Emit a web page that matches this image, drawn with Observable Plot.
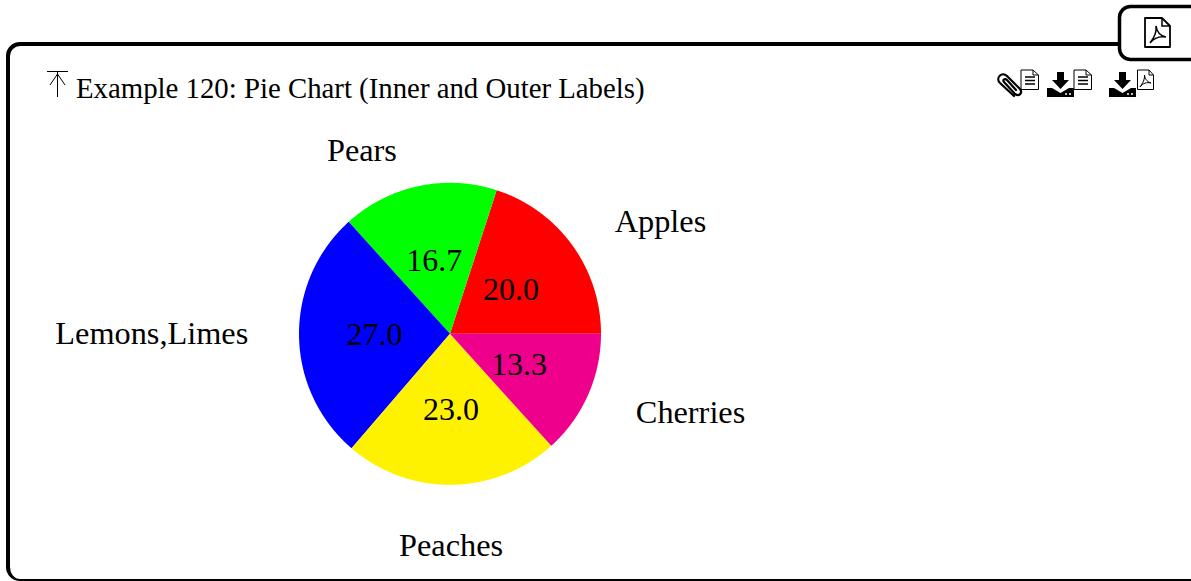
<!DOCTYPE html>
<html><head><meta charset="utf-8">
<script src="https://cdn.jsdelivr.net/npm/d3@7"></script>
<script src="https://cdn.jsdelivr.net/npm/@observablehq/plot@0.6"></script>
<style>
html,body{margin:0;padding:0;background:#fff;overflow:hidden;width:1191px;height:581px}
#page{position:relative;width:1191px;height:581px;overflow:hidden}
#frame{position:absolute;left:6px;top:42px;width:1300px;height:539px;border:4px solid #000;border-bottom-width:2.5px;border-radius:14px;box-sizing:border-box}
#plot{position:absolute;left:0;top:0}
#title{position:absolute;left:76px;top:70px;font:28.8px/36px "Liberation Serif",serif;color:#000;white-space:nowrap}
#icons{position:absolute;left:0;top:0}
</style></head><body>
<div id="page">
<div id="frame"></div>
<div id="plot"></div>
<div id="title">Example 120: Pie Chart (Inner and Outer Labels)</div>
<svg id="icons" width="1191" height="581" fill="none" stroke="#000">
  <rect x="1119.5" y="6.5" width="90" height="53" rx="11" fill="#fff" stroke-width="3.5"/>
  <path d="M47 71.5H68M57.5 71.5V97M50 85L57.5 74L65 85" stroke-width="1"/>
  <path d="M1145 18H1162L1170 26V47H1145Z" stroke-width="1.8" stroke-linejoin="round"/>
  <path d="M1162 18V26H1170" stroke-width="1.5"/>
  <path d="M1150 43C1154 38 1157 32 1156 26C1157 33 1161 36 1166 37C1160 36 1154 38 1150 43Z" stroke-width="1.6"/>
  <path d="M1014 96L1000 83C995 78 1002 71 1007 76L1020 89C1023 93 1019 97 1015 94L1004 82C1002 80 1005 78 1007 80L1016 90" stroke-width="2.2" stroke-linecap="round"/>
  <g id="doc" stroke-width="1"><path d="M1021 70H1033L1038.5 75V89.5H1021Z"/><path d="M1033 70V75H1038.5"/><path d="M1025 77H1035M1025 80.5H1035M1025 84H1035" stroke-width="1.5"/></g>
  <use href="#doc" x="53"/>
  <g id="dl"><path d="M1057 72H1064V80H1069L1060.5 89L1052 80H1057Z" fill="#000" stroke="none"/><path d="M1047 88H1052L1060.5 93L1069 88H1074V97H1047Z" fill="#000" stroke="none"/><circle cx="1066" cy="94" r="1" fill="#fff" stroke="none"/><circle cx="1070" cy="94" r="1" fill="#fff" stroke="none"/></g>
  <use href="#dl" x="62"/>
  <path d="M1137.5 70H1149L1153.5 75V89.5H1137.5Z" stroke-width="1"/><path d="M1149 70V75H1153.5" stroke-width="1"/>
  <path d="M1140 87C1143 83 1145 79 1144.5 75C1145 80 1148 82 1151 83C1147 82 1143 83 1140 87Z" stroke-width="1"/>
</svg>
</div>
<script>
const names = ["Apples", "Pears", "Lemons,Limes", "Peaches", "Cherries"];
const values = [20.0, 16.7, 27.0, 23.0, 13.3];
const colors = ["#ff0000", "#00ff00", "#0000ff", "#fff200", "#ee008c"];
// outer label centres, in pie radii from the pie's centre
const outerX = [1.394, -0.583, -1.975, 0.007, 1.593];
const outerY = [0.745, 1.212, 0, -1.405, -0.52];

const width = 1191, height = 581, cx = 449.5, cy = 333.3, radius = 151;
const total = d3.sum(values);
let acc = 0;
const slices = names.map((name, i) => {
  const start = acc / total * 2 * Math.PI;
  acc += values[i];
  const end = acc / total * 2 * Math.PI;
  return {name, value: values[i], start, end, mid: (start + end) / 2, ox: outerX[i], oy: outerY[i]};
});
const outline = slices.flatMap(s => {
  const n = Math.ceil((s.end - s.start) / 0.005);
  const pts = d3.range(n + 1).map(k => {
    const a = s.start + (s.end - s.start) * k / n;
    return {name: s.name, x: Math.cos(a), y: Math.sin(a)};
  });
  return [{name: s.name, x: 0, y: 0}, ...pts, {name: s.name, x: 0, y: 0}];
});
const plot = Plot.plot({
  width, height, margin: 0,
  x: {domain: [-cx / radius, (width - cx) / radius], range: [0, width], axis: null},
  y: {domain: [-(height - cy) / radius, cy / radius], range: [height, 0], axis: null},
  color: {domain: names, range: colors},
  style: {background: "transparent", fontFamily: "'Liberation Serif', serif"},
  marks: [
    Plot.line(outline, {x: "x", y: "y", z: "name", fill: "name", stroke: null, curve: "linear"}),
    Plot.text(slices, {
      x: d => .5 * Math.cos(d.mid), y: d => .5 * Math.sin(d.mid),
      text: d => d.value.toFixed(1), fontSize: 32, fill: "#000", dy: 0.5
    }),
    Plot.text(slices, {x: "ox", y: "oy", text: "name", fontSize: 32.3, fill: "#000"})
  ]
});
document.getElementById("plot").append(plot);
</script>
</body></html>
